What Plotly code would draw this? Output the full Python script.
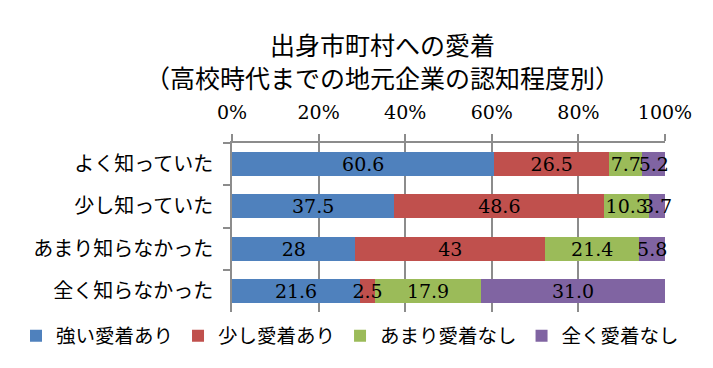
import plotly.graph_objects as go

categories = ["よく知っていた", "少し知っていた", "あまり知らなかった", "全く知らなかった"]
series_names = ["強い愛着あり", "少し愛着あり", "あまり愛着なし", "全く愛着なし"]
strong = [60.6, 37.5, 28, 21.6]
some = [26.5, 48.6, 43, 2.5]
little = [7.7, 10.3, 21.4, 17.9]
none_ = [5.2, 3.7, 5.8, 31.0]
colors = ["#4F81BD", "#C0504D", "#9BBB59", "#8064A2"]
x_ticks = [0, 20, 40, 60, 80, 100]
title_lines = ["出身市町村への愛着", "（高校時代までの地元企業の認知程度別）"]

SERIF = "DejaVu Serif, Noto Sans CJK JP"
CJK = "Noto Sans CJK JP"
all_series = [strong, some, little, none_]

fig = go.Figure()
# coloured bars (no text)
for name, vals, col in zip(series_names, all_series, colors):
    fig.add_trace(go.Bar(
        y=categories, x=vals, name=name, orientation="h",
        marker=dict(color=col, line=dict(width=0)),
        xaxis="x", yaxis="y", hoverinfo="skip",
    ))
# transparent overlay bars carrying the labels, drawn above every bar
for name, vals in zip(series_names, all_series):
    fig.add_trace(go.Bar(
        y=categories, x=vals, name=name, orientation="h",
        marker=dict(color="rgba(0,0,0,0)", line=dict(width=0)),
        text=[str(v) for v in vals],
        textposition="inside", insidetextanchor="middle", textangle=0,
        textfont=dict(family=SERIF, size=19, color="black"),
        constraintext="none", cliponaxis=False,
        xaxis="x", yaxis="y2", showlegend=False, hoverinfo="skip",
    ))

fig.update_layout(
    barmode="stack", barnorm="percent", bargap=0.43,
    width=713, height=368,
    margin=dict(l=232, r=48, t=143, b=50),
    paper_bgcolor="white", plot_bgcolor="white",
    uniformtext=dict(minsize=19, mode="show"),
    legend=dict(
        orientation="h", x=(16 - 232) / 433, xanchor="left",
        y=-25 / 175, yanchor="middle",
        font=dict(family=CJK, size=19.5, color="black"),
        traceorder="normal", itemwidth=30,
    ),
    showlegend=True,
    yaxis2=dict(overlaying="y", matches="y", visible=False, autorange="reversed"),
)
fig.add_annotation(
    text="<br>".join(title_lines), xref="paper", yref="paper",
    x=(382 - 232) / 433, y=(318 - 57.5) / 175, xanchor="center", yanchor="middle",
    align="center", showarrow=False, font=dict(family=CJK, size=25, color="black"),
)
fig.update_xaxes(
    side="top", range=[0, 100], tickvals=x_ticks,
    ticktext=[f"{t}%" for t in x_ticks],
    showgrid=True, gridcolor="#8c8c8c", gridwidth=1.5,
    showline=True, linecolor="#8c8c8c", linewidth=1.5,
    ticks="outside", ticklen=7, tickcolor="#8c8c8c", tickwidth=1.5,
    tickfont=dict(family=SERIF, size=19, color="black"),
    ticklabelstandoff=8,
    zeroline=False, fixedrange=True,
)
fig.layout.yaxis.update(autorange="reversed", showgrid=False,
    showline=True, linecolor="#8c8c8c", linewidth=1.5,
    ticks="outside", tickson="boundaries", ticklen=7, tickcolor="#8c8c8c", tickwidth=1.5,
    tickfont=dict(family=CJK, size=20, color="black"),
    ticklabelstandoff=13, fixedrange=True)

fig.write_html("out.html")
